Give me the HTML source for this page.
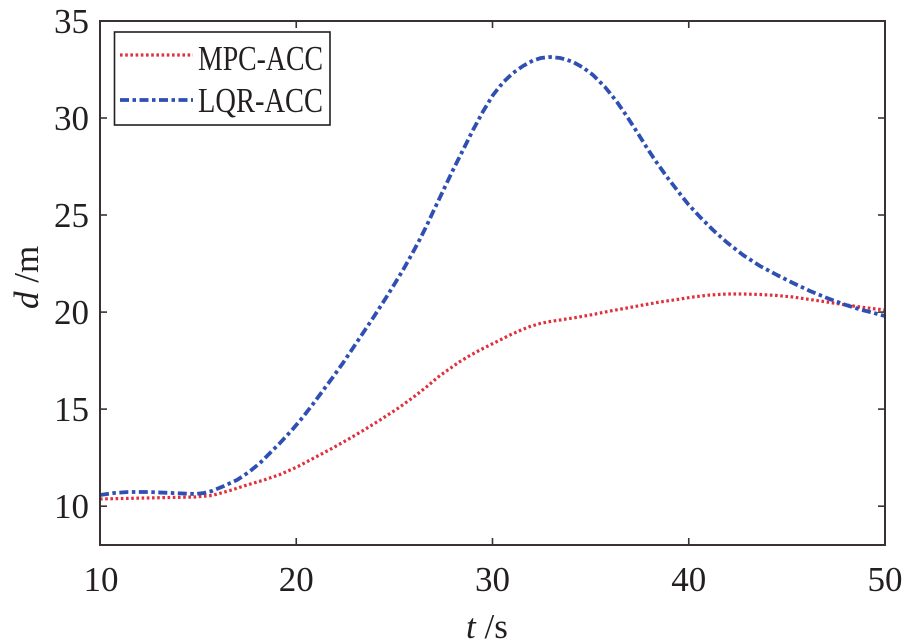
<!DOCTYPE html>
<html>
<head>
<meta charset="utf-8">
<style>
  html, body { margin:0; padding:0; background:#ffffff; }
  svg { display:block; }
  text { font-family: "Liberation Serif", "DejaVu Serif", serif; fill:#231f20; }
</style>
</head>
<body>
<svg width="907" height="643" viewBox="0 0 907 643" xmlns="http://www.w3.org/2000/svg">
  <rect x="0" y="0" width="907" height="643" fill="#ffffff"/>

  <!-- series -->
  <polyline fill="none" stroke="#e0303c" stroke-width="3.2" stroke-dasharray="2.6 2.6" stroke-linejoin="round"
    points="100,499 145,498 195,497 212,495.5 230,490.5 247,485 264,480 280,474.5 297,467 313,458.5 330,449.5 347,440 364,430 380,420 397,409 413,397.5 427,386.5 440,375.5 450,368.5 460,361.5 470,355.5 480,350 490,345 500,340 510,335 520,330.5 530,326.5 540,323.5 550,321.5 560,320 576,317.5 593,314.5 610,311 627,308 643,305 660,302 677,299.5 693,297 710,295 727,294 743,294 760,294.5 777,295.5 793,297 810,299.5 827,302 843,304.5 860,307 872,308.5 885,310"/>
  <polyline fill="none" stroke="#2f4fb3" stroke-width="3.8" stroke-dasharray="9 3.5 3.5 3.5" stroke-linejoin="round"
    points="100,495 114,493 128,492 148,492 172,493 195,494 204,493 212,491 224,486 237,480 249,472 260,463 270,453 280,443 292,430 303,417 313,404 323,390.5 333,377 343,363 353,348 363,333 373,318 383,302.5 393,286.5 403,270 412,254 420,239 427,225 433,212 443,191 453,170 463,150 473,130 483,111.5 493,95 503,82.5 513,73 523,66 533,60.5 541,58 550,57 560,58 566,59.5 573,62 583,67.5 593,75 605,87 617,102 627,116.5 637,132 647,148 657,163 667,177 677,190 688,204 700,217 713,230 727,242.5 743,255 760,266 777,275 793,283 810,291 827,298 843,304 860,309.5 872,312.5 885,316"/>

  <!-- axes frame -->
  <rect x="100" y="21" width="785" height="524" fill="none" stroke="#3a3232" stroke-width="2"/>

  <!-- ticks -->
  <g stroke="#3a3232" stroke-width="1.6">
    <line x1="296.25" y1="545" x2="296.25" y2="538"/>
    <line x1="492.5" y1="545" x2="492.5" y2="538"/>
    <line x1="688.75" y1="545" x2="688.75" y2="538"/>
    <line x1="296.25" y1="21" x2="296.25" y2="28"/>
    <line x1="492.5" y1="21" x2="492.5" y2="28"/>
    <line x1="688.75" y1="21" x2="688.75" y2="28"/>
    <line x1="100" y1="506.2" x2="107" y2="506.2"/>
    <line x1="100" y1="409.1" x2="107" y2="409.1"/>
    <line x1="100" y1="312.1" x2="107" y2="312.1"/>
    <line x1="100" y1="215" x2="107" y2="215"/>
    <line x1="100" y1="118" x2="107" y2="118"/>
    <line x1="885" y1="506.2" x2="878" y2="506.2"/>
    <line x1="885" y1="409.1" x2="878" y2="409.1"/>
    <line x1="885" y1="312.1" x2="878" y2="312.1"/>
    <line x1="885" y1="215" x2="878" y2="215"/>
    <line x1="885" y1="118" x2="878" y2="118"/>
  </g>

  <!-- y tick labels -->
  <g font-size="35" text-anchor="end">
    <text x="89" y="33">35</text>
    <text x="89" y="130">30</text>
    <text x="89" y="227">25</text>
    <text x="89" y="324">20</text>
    <text x="89" y="421">15</text>
    <text x="89" y="518">10</text>
  </g>

  <!-- x tick labels -->
  <g font-size="35" text-anchor="middle">
    <text x="101" y="591">10</text>
    <text x="296.25" y="591">20</text>
    <text x="492.5" y="591">30</text>
    <text x="688.75" y="591">40</text>
    <text x="885" y="591">50</text>
  </g>

  <!-- axis labels -->
  <text x="466" y="638" font-size="35"><tspan font-style="italic">t</tspan> /s</text>
  <text transform="translate(38,309) rotate(-90)" font-size="35"><tspan font-style="italic">d</tspan> /m</text>

  <!-- legend -->
  <rect x="114.5" y="32" width="215.5" height="93" fill="#ffffff" stroke="#231f20" stroke-width="1.6"/>
  <line x1="120" y1="55" x2="193" y2="55" stroke="#e0303c" stroke-width="3.2" stroke-dasharray="2.6 2.6"/>
  <line x1="120" y1="100" x2="193" y2="100" stroke="#2f4fb3" stroke-width="3.8" stroke-dasharray="9 3.5 3.5 3.5"/>
  <text x="198" y="70" font-size="35" textLength="125" lengthAdjust="spacingAndGlyphs">MPC-ACC</text>
  <text x="198" y="112" font-size="35" textLength="125" lengthAdjust="spacingAndGlyphs">LQR-ACC</text>
</svg>
</body>
</html>
